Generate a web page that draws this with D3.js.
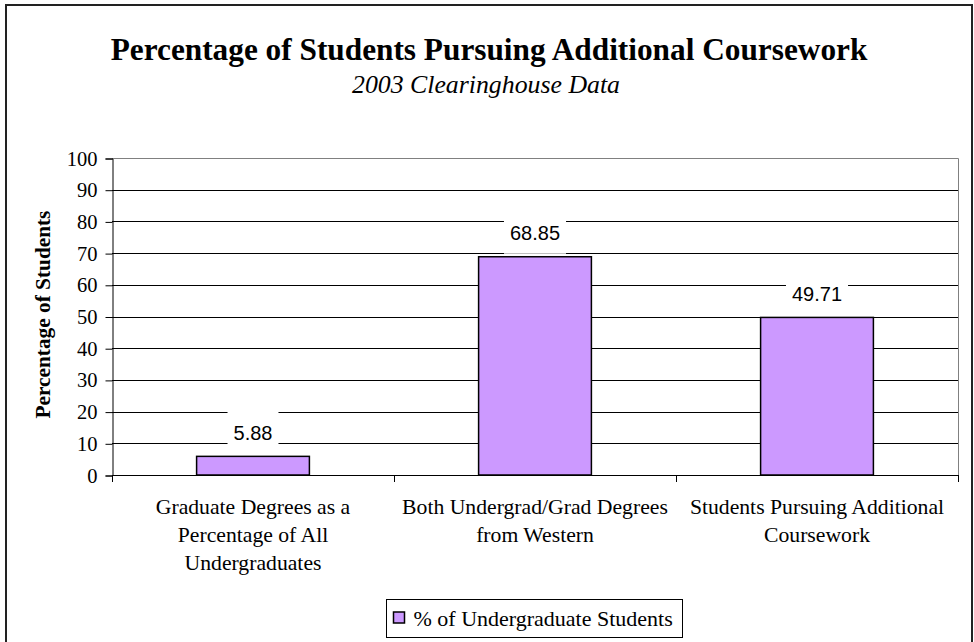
<!DOCTYPE html>
<html>
<head>
<meta charset="utf-8">
<script src="https://cdn.jsdelivr.net/npm/d3@7"></script>
<style>
  body { margin: 0; background: #fff; }
  svg { display: block; }
</style>
</head>
<body>
<svg id="chart" width="974" height="642"></svg>
<script>
// chart values
const categories = [
  "Graduate Degrees as a Percentage of All Undergraduates",
  "Both Undergrad/Grad Degrees from Western",
  "Students Pursuing Additional Coursework"
];
const categoryLines = [
  ["Graduate Degrees as a", "Percentage of All", "Undergraduates"],
  ["Both Undergrad/Grad Degrees", "from Western"],
  ["Students Pursuing Additional", "Coursework"]
];
const values = [5.88, 68.85, 49.71];
const yTicks = [0, 10, 20, 30, 40, 50, 60, 70, 80, 90, 100];
const seriesName = "% of Undergraduate Students";

const serif = "'Liberation Serif', 'Times New Roman', serif";
const sans = "'Liberation Sans', Arial, sans-serif";

const svg = d3.select("#chart");

// outer chart border
svg.append("rect")
  .attr("x", 6).attr("y", 5)
  .attr("width", 966).attr("height", 700)
  .attr("fill", "none")
  .attr("stroke", "#222")
  .attr("stroke-width", 2);

// titles
svg.append("text")
  .attr("x", 489).attr("y", 60)
  .attr("text-anchor", "middle")
  .style("font-family", serif)
  .style("font-weight", "bold")
  .style("font-size", "31.3px")
  .text("Percentage of Students Pursuing Additional Coursework");

svg.append("text")
  .attr("x", 486).attr("y", 93)
  .attr("text-anchor", "middle")
  .style("font-family", serif)
  .style("font-style", "italic")
  .style("font-size", "25.8px")
  .text("2003 Clearinghouse Data");

const plotLeft = 112, plotRight = 958, plotTop = 158, plotBottom = 475;

const y = d3.scaleLinear().domain([0, 100]).range([plotBottom, plotTop]);

const x = d3.scaleBand()
  .domain(categories)
  .range([plotLeft, plotRight])
  .paddingInner(0.6)
  .paddingOuter(0.3);

const xCat = d3.scaleBand()
  .domain(categories)
  .range([plotLeft, plotRight]);

// gridlines
svg.append("g")
  .selectAll("line")
  .data(yTicks.filter((d) => d > 0 && d < 100))
  .enter()
  .append("line")
  .attr("x1", plotLeft).attr("x2", plotRight)
  .attr("y1", (d) => Math.round(y(d)) + 0.5)
  .attr("y2", (d) => Math.round(y(d)) + 0.5)
  .attr("stroke", "#000")
  .attr("stroke-width", 1);

// plot border (top and right)
svg.append("path")
  .attr("d", `M${plotLeft},${plotTop + 0.5}H${plotRight + 0.5}V${plotBottom}`)
  .attr("fill", "none")
  .attr("stroke", "#808080")
  .attr("stroke-width", 1);

// y axis
const yAxis = svg.append("g")
  .attr("transform", `translate(${plotLeft + 0.5},0.5)`)
  .call(d3.axisLeft(y).tickValues(yTicks).tickSize(7).tickPadding(8).tickFormat(d3.format("d")));
yAxis.select(".domain").attr("stroke", "#000");
yAxis.selectAll(".tick line").attr("stroke", "#000");
yAxis.selectAll("text")
  .style("font-family", serif)
  .style("font-size", "20.5px")
  .attr("fill", "#000");

// x axis with ticks at category boundaries
const boundaries = categories.map((c) => xCat(c)).concat([plotRight]);
svg.append("line")
  .attr("x1", plotLeft).attr("x2", plotRight + 0.5)
  .attr("y1", plotBottom + 0.5).attr("y2", plotBottom + 0.5)
  .attr("stroke", "#000");
svg.append("g")
  .selectAll("line")
  .data(boundaries)
  .enter()
  .append("line")
  .attr("x1", (d) => Math.round(d) + 0.5)
  .attr("x2", (d) => Math.round(d) + 0.5)
  .attr("y1", plotBottom)
  .attr("y2", plotBottom + 7)
  .attr("stroke", "#000");

// bars
svg.append("g")
  .selectAll("rect")
  .data(values)
  .enter()
  .append("rect")
  .attr("x", (d, i) => x(categories[i]))
  .attr("y", (d) => y(d))
  .attr("width", x.bandwidth())
  .attr("height", (d) => plotBottom - y(d))
  .attr("fill", "#CC99FF")
  .attr("stroke", "#000")
  .attr("stroke-width", 1.5);

// value labels with white boxes
const labels = svg.append("g")
  .selectAll("g")
  .data(values)
  .enter()
  .append("g")
  .attr("transform", (d, i) =>
    `translate(${x(categories[i]) + x.bandwidth() / 2}, ${y(d) - 24})`);

labels.append("rect")
  .attr("x", -31).attr("y", -21)
  .attr("width", 62).attr("height", 42)
  .attr("fill", "#fff");

labels.append("text")
  .attr("text-anchor", "middle")
  .attr("dy", "0.36em")
  .style("font-family", sans)
  .style("font-size", "20px")
  .text((d) => d.toFixed(2))
  .each(function () {
    const w = this.getComputedTextLength();
    d3.select(this.parentNode).select("rect")
      .attr("x", -w / 2 - 6)
      .attr("width", w + 12);
  });

// category labels
const catLabels = svg.append("g")
  .selectAll("text")
  .data(categoryLines)
  .enter()
  .append("text")
  .attr("text-anchor", "middle")
  .style("font-family", serif)
  .style("font-size", "21.7px")
  .attr("x", (d, i) => xCat(categories[i]) + xCat.bandwidth() / 2)
  .attr("y", 514);

catLabels.selectAll("tspan")
  .data((d) => d)
  .enter()
  .append("tspan")
  .attr("x", function () { return d3.select(this.parentNode).attr("x"); })
  .attr("dy", (d, i) => (i === 0 ? 0 : 28))
  .text((d) => d);

// y axis title
svg.append("text")
  .attr("transform", `translate(50, ${(plotTop + plotBottom) / 2 - 2}) rotate(-90)`)
  .attr("text-anchor", "middle")
  .style("font-family", serif)
  .style("font-weight", "bold")
  .style("font-size", "21.3px")
  .text("Percentage of Students");

// legend
const legend = svg.append("g").attr("transform", "translate(386.5, 599.5)");
legend.append("rect")
  .attr("width", 296).attr("height", 38)
  .attr("fill", "#fff")
  .attr("stroke", "#000");
legend.append("rect")
  .attr("x", 7).attr("y", 12.5)
  .attr("width", 11).attr("height", 11)
  .attr("fill", "#CC99FF")
  .attr("stroke", "#000")
  .attr("stroke-width", 1.5);
legend.append("text")
  .attr("x", 27).attr("y", 26)
  .style("font-family", serif)
  .style("font-size", "22px")
  .text(seriesName);
</script>
</body>
</html>
